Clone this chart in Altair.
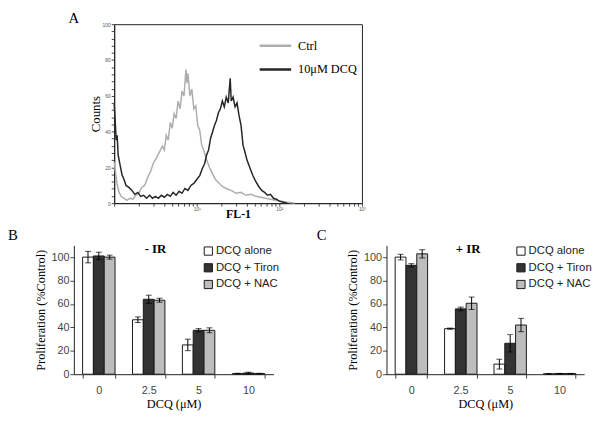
import altair as alt
import pandas as pd

# ---------------- Panel A: flow cytometry histogram (FL-1, log decades) ----------------
ctrl_decade = [0.000, 0.012, 0.036, 0.060, 0.083, 0.119, 0.155, 0.190, 0.226, 0.262,
               0.298, 0.333, 0.369, 0.405, 0.440, 0.476, 0.512, 0.548, 0.583, 0.607,
               0.631, 0.655, 0.679, 0.702, 0.726, 0.750, 0.774, 0.798, 0.821, 0.845,
               0.869, 0.881, 0.893, 0.917, 0.940, 0.964, 0.988, 1.012, 1.036, 1.060,
               1.083, 1.119, 1.155, 1.190, 1.226, 1.262, 1.310, 1.357, 1.417, 1.476,
               1.536, 1.595, 1.655, 1.714, 1.774, 1.833, 1.893, 1.952, 2.024, 2.095, 2.190]
ctrl_counts = [23.0, 18.7, 10.4, 6.0, 3.8, 2.7, 1.6, 2.7, 2.2, 4.4,
               5.5, 8.8, 9.9, 14.3, 17.6, 22.5, 25.3, 28.6, 31.9, 29.7,
               37.9, 35.2, 45.1, 41.8, 50.0, 47.3, 57.1, 52.7, 62.6, 59.9,
               74.7, 67.0, 72.5, 59.9, 63.7, 52.7, 54.4, 43.4, 40.7, 32.4,
               29.7, 24.2, 19.8, 16.5, 13.2, 11.5, 9.3, 8.2, 7.1, 5.5,
               6.0, 4.4, 4.9, 3.8, 3.3, 2.7, 2.2, 1.6, 1.1, 0.5, 0.0]

dcq_decade = [0.000, 0.012, 0.024, 0.036, 0.048, 0.071, 0.095, 0.119, 0.143, 0.179,
              0.214, 0.250, 0.286, 0.321, 0.357, 0.393, 0.429, 0.464, 0.500, 0.536,
              0.571, 0.607, 0.643, 0.679, 0.714, 0.750, 0.786, 0.821, 0.857, 0.893,
              0.929, 0.964, 1.000, 1.036, 1.071, 1.095, 1.119, 1.143, 1.167, 1.190,
              1.214, 1.238, 1.262, 1.286, 1.310, 1.333, 1.357, 1.381, 1.405, 1.417,
              1.440, 1.464, 1.488, 1.512, 1.536, 1.560, 1.583, 1.607, 1.643, 1.679,
              1.714, 1.750, 1.786, 1.821, 1.857, 1.893, 1.929, 1.964, 2.000, 2.048, 2.095]
dcq_counts = [55.5, 46.2, 35.2, 37.9, 26.9, 21.4, 15.9, 13.2, 9.9, 8.8,
              7.1, 4.9, 6.0, 3.8, 4.4, 2.7, 4.4, 2.7, 3.8, 2.7,
              4.4, 3.3, 4.9, 3.8, 6.0, 4.4, 6.6, 5.5, 8.2, 7.1,
              9.9, 11.0, 13.2, 15.4, 19.8, 22.0, 26.9, 29.7, 36.3, 39.6,
              43.4, 46.2, 50.5, 52.7, 57.1, 53.8, 59.3, 56.0, 69.8, 57.1,
              59.3, 53.8, 56.0, 48.9, 43.4, 32.4, 28.6, 24.2, 19.8, 15.4,
              12.1, 9.3, 7.1, 6.0, 4.4, 4.9, 2.7, 2.2, 1.1, 0.5, 0.0]

samples = ["Ctrl", "10\u03bcM DCQ"]
sample_colors = ["#adadad", "#262626"]

# minor/major tick positions on the decade axis (log10 of 1..9 per decade) and count axis
x_tick_values = [0, 0.301, 0.477, 0.602, 0.699, 0.778, 0.845, 0.903, 0.954,
                 1, 1.301, 1.477, 1.602, 1.699, 1.778, 1.845, 1.903, 1.954,
                 2, 2.301, 2.477, 2.602, 2.699, 2.778, 2.845, 2.903, 2.954, 3]
y_tick_values = [0, 4, 8, 12, 16, 20, 24, 28, 32, 36, 40, 44, 48, 52, 56, 60,
                 64, 68, 72, 76, 80, 84, 88, 92, 96, 100]

# ---------------- Panels B and C: proliferation bars ----------------
concentrations = ["0", "2.5", "5", "10"]
treatments = ["DCQ alone", "DCQ + Tiron", "DCQ + NAC"]
treat_colors = ["#ffffff", "#333333", "#bdbdbd"]

b_alone = [100.0, 46.5, 25.0, 0.5]
b_alone_err = [4.9, 2.4, 4.9, 0.3]
b_tiron = [101.0, 64.0, 37.5, 1.0]
b_tiron_err = [3.2, 3.5, 1.4, 0.7]
b_nac = [100.0, 63.2, 37.5, 0.5]
b_nac_err = [1.7, 1.7, 2.1, 0.3]

c_alone = [100.0, 38.9, 8.6, 0.3]
c_alone_err = [2.4, 0.5, 4.2, 0.2]
c_tiron = [93.0, 55.8, 26.4, 0.5]
c_tiron_err = [1.4, 1.5, 7.4, 0.2]
c_nac = [102.8, 60.6, 42.0, 0.5]
c_nac_err = [3.5, 5.3, 5.7, 0.2]

SERIF = "Liberation Serif"
SANS = "Liberation Sans"
one = pd.DataFrame({"k": [0]})


def label_text(txt, x, y, size=15, weight="normal", align="center"):
    return alt.Chart(one).mark_text(
        text=txt, font=SERIF, fontSize=size, fontWeight=weight, align=align,
        baseline="middle", color="black"
    ).encode(x=alt.value(x), y=alt.value(y))


# ---- Panel A ----
hist_df = pd.DataFrame({
    "decade": ctrl_decade + dcq_decade,
    "counts": ctrl_counts + dcq_counts,
    "sample": [samples[0]] * len(ctrl_decade) + [samples[1]] * len(dcq_decade),
})

x_label_expr = ("datum.value == 1 ? '10\u00b9' : datum.value == 2 ? '10\u00b2' : "
                "datum.value == 3 ? '10\u00b3' : ''")
y_label_expr = "datum.value % 20 == 0 ? datum.value : ''"

hist = alt.Chart(hist_df).mark_line(strokeWidth=1.5).encode(
    x=alt.X("decade:Q", scale=alt.Scale(domain=[0, 3], nice=False, zero=False),
            axis=alt.Axis(values=x_tick_values, labelExpr=x_label_expr, title="FL-1",
                          titleFont=SERIF, titleFontSize=12, titleFontWeight="bold",
                          titleColor="black", titlePadding=-2, labelFontSize=5,
                          labelColor="#555", labelPadding=0, tickSize=3, grid=False,
                          domainColor="#222", tickColor="#444", labelFlush=False)),
    y=alt.Y("counts:Q", scale=alt.Scale(domain=[0, 100], nice=False),
            axis=alt.Axis(values=y_tick_values, labelExpr=y_label_expr, title="Counts",
                          titleFont=SERIF, titleFontSize=13, titleFontWeight="normal",
                          titleColor="black", titlePadding=0, labelFontSize=5,
                          labelColor="#555", labelPadding=1, tickSize=3, grid=False,
                          domainColor="#222", tickColor="#444")),
    color=alt.Color("sample:N", sort=samples,
                    scale=alt.Scale(domain=samples, range=sample_colors), legend=None),
)

leg_layers = []
for i, (s, col) in enumerate(zip(samples, sample_colors)):
    yy = 22 + 24 * i
    leg_layers.append(alt.Chart(one).mark_rule(color=col, strokeWidth=2.5).encode(
        x=alt.value(148), x2=alt.value(180), y=alt.value(yy)))
    leg_layers.append(label_text(s, 187, yy, size=12.5, align="left"))

panel_a = alt.layer(hist, *leg_layers).properties(
    width=252, height=182,
    view=alt.ViewBackground(stroke="#222", strokeWidth=1),
)

# narrow left column of the top row: carries the panel letter "A"
letter_a = label_text("A", 0, -6).properties(width=15, height=182)
top = alt.hconcat(letter_a, panel_a, spacing=0)


def bar_panel(letter, letter_x, ir_text, alone, alone_err, tiron, tiron_err,
              nac, nac_err, width):
    rows = []
    for i, c in enumerate(concentrations):
        for t, vals, errs in zip(treatments, [alone, tiron, nac],
                                 [alone_err, tiron_err, nac_err]):
            rows.append({"conc": c, "treat": t, "val": vals[i],
                         "lo": vals[i] - errs[i], "hi": vals[i] + errs[i]})
    df = pd.DataFrame(rows)

    y_axis = alt.Axis(values=[0, 20, 40, 60, 80, 100], title="Proliferation (%Control)",
                      titleFont=SERIF, titleFontSize=12.5, titleFontWeight="normal",
                      titleColor="black", titlePadding=4, labelFont=SANS, labelFontSize=11,
                      labelColor="#444", labelPadding=1, tickSize=4, grid=False,
                      domainColor="#222", tickColor="#444")
    y_scale = alt.Scale(domain=[0, 110], nice=False)

    base = alt.Chart(df).encode(
        x=alt.X("conc:N", sort=concentrations,
                scale=alt.Scale(paddingInner=0.35, paddingOuter=0.175),
                axis=alt.Axis(title="DCQ (\u03bcM)", titleFont=SERIF, titleFontSize=12.5,
                              titleFontWeight="normal", titleColor="black", titlePadding=2,
                              labelFont=SANS, labelFontSize=11, labelColor="#444",
                              labelAngle=0, labelPadding=7, tickBand="extent", tickSize=4,
                              domainColor="#222", tickColor="#444", grid=False)),
        xOffset=alt.XOffset("treat:N", sort=treatments,
                            scale=alt.Scale(domain=treatments, paddingInner=0, paddingOuter=0)),
    )
    bars = base.mark_bar(stroke="#1a1a1a", strokeWidth=1).encode(
        y=alt.Y("val:Q", scale=y_scale, axis=y_axis),
        fill=alt.Fill("treat:N", sort=treatments,
                      scale=alt.Scale(domain=treatments, range=treat_colors),
                      legend=alt.Legend(title=None, orient="none", legendX=131, legendY=0,
                                        symbolType="square", symbolSize=70,
                                        symbolStrokeColor="#1a1a1a", symbolStrokeWidth=1,
                                        labelFont=SANS, labelFontSize=11.5, labelColor="#222",
                                        rowPadding=4, labelOffset=2, padding=0)),
    )
    err = base.mark_rule(color="black", strokeWidth=1).encode(
        y=alt.Y("lo:Q", scale=y_scale, axis=y_axis), y2="hi:Q")
    cap_lo = base.mark_tick(color="black", thickness=1, size=6).encode(
        y=alt.Y("lo:Q", scale=y_scale, axis=y_axis))
    cap_hi = base.mark_tick(color="black", thickness=1, size=6).encode(
        y=alt.Y("hi:Q", scale=y_scale, axis=y_axis))
    ir = label_text(ir_text, 83, 4, size=13, weight="bold")
    let = label_text(letter, letter_x, -10, size=15, align="left")

    return alt.layer(bars, err, cap_lo, cap_hi, ir, let).properties(width=width, height=131)


panel_b = bar_panel("B", -67, "- IR", b_alone, b_alone_err, b_tiron, b_tiron_err,
                    b_nac, b_nac_err, 203)
panel_c = bar_panel("C", -71, "+ IR", c_alone, c_alone_err, c_tiron, c_tiron_err,
                    c_nac, c_nac_err, 201)

bottom = alt.hconcat(panel_b, panel_c, spacing=38).resolve_scale(fill="independent")

chart = alt.vconcat(top, bottom, spacing=8).resolve_scale(fill="independent").properties(
    padding={"left": 0, "top": 0, "right": 0, "bottom": 0}
).configure_view(stroke=None)

chart.save("out.html", embed_options={"renderer": "svg", "actions": False})
